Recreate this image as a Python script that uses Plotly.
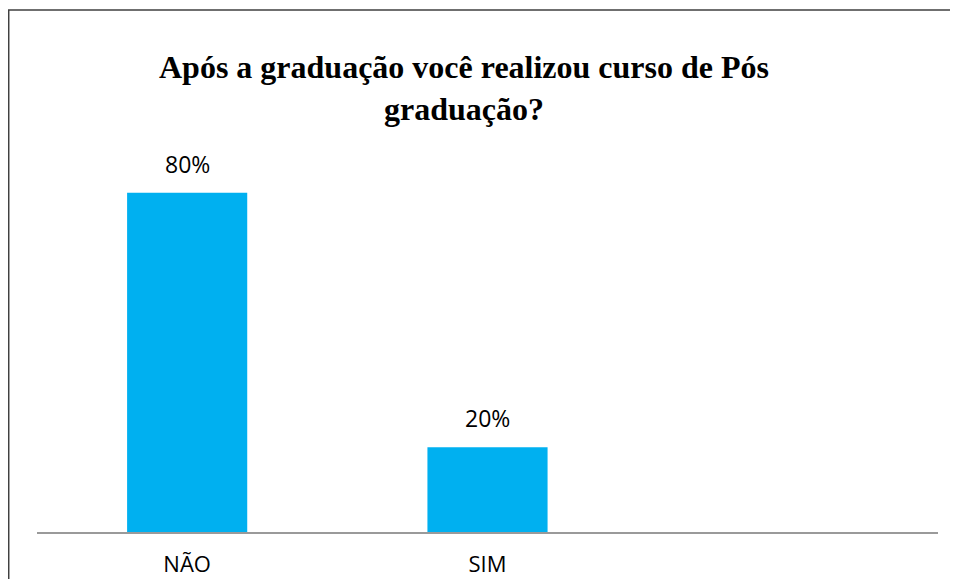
import plotly.graph_objects as go

categories = ["NÃO", "SIM", " "]
values = [80, 20, None]
value_labels = ["80%", "20%", ""]
title_text = "Após a graduação você realizou curso de Pós<br>graduação?"

# page is drawn with an 8px body offset; layout below is in figure pixels
fig = go.Figure()
fig.add_trace(go.Bar(
    x=categories, y=values, width=0.4,
    marker=dict(color="#00B0F0", line=dict(width=0)),
    hoverinfo="skip",
))

for c, v, t in zip(categories, values, value_labels):
    if v is None:
        continue
    fig.add_annotation(x=c, y=v, text=t, showarrow=False, yanchor="bottom",
                       yshift=11, font=dict(family="Open Sans", size=23, color="#000000"))

L, R, T, B = 29, 28, 100, 55
PW, PH = 958 - L - R, 579 - T - B

# outer border
fig.add_shape(type="rect", xref="paper", yref="paper",
              x0=(0 - L) / PW + 0.0008, x1=1.2, y0=-0.3, y1=(PH + T - 2) / PH,
              line=dict(color="#404040", width=1.5), fillcolor="rgba(0,0,0,0)", layer="below")

fig.update_layout(
    width=958, height=579,
    margin=dict(l=L, r=R, t=T, b=B, autoexpand=False),
    paper_bgcolor="white", plot_bgcolor="white",
    showlegend=False,
    title=dict(text=title_text, x=456 / 958, xanchor="center", xref="container",
               y=1 - 70 / 579, yanchor="top", yref="container",
               font=dict(family="Liberation Serif", size=32, color="#000000", weight="bold")),
    xaxis=dict(type="category", categoryarray=categories, categoryorder="array",
               showline=True, linecolor="#9a9a9a", linewidth=1.5, ticks="",
               showgrid=False, zeroline=False, range=[-0.5, 2.5], automargin=False,
               tickfont=dict(family="Open Sans", size=22, color="#000000"),
               ticklabelstandoff=12),
    yaxis=dict(range=[0, 100], visible=False, showgrid=False, zeroline=False, automargin=False),
)

fig.write_html("out.html")
